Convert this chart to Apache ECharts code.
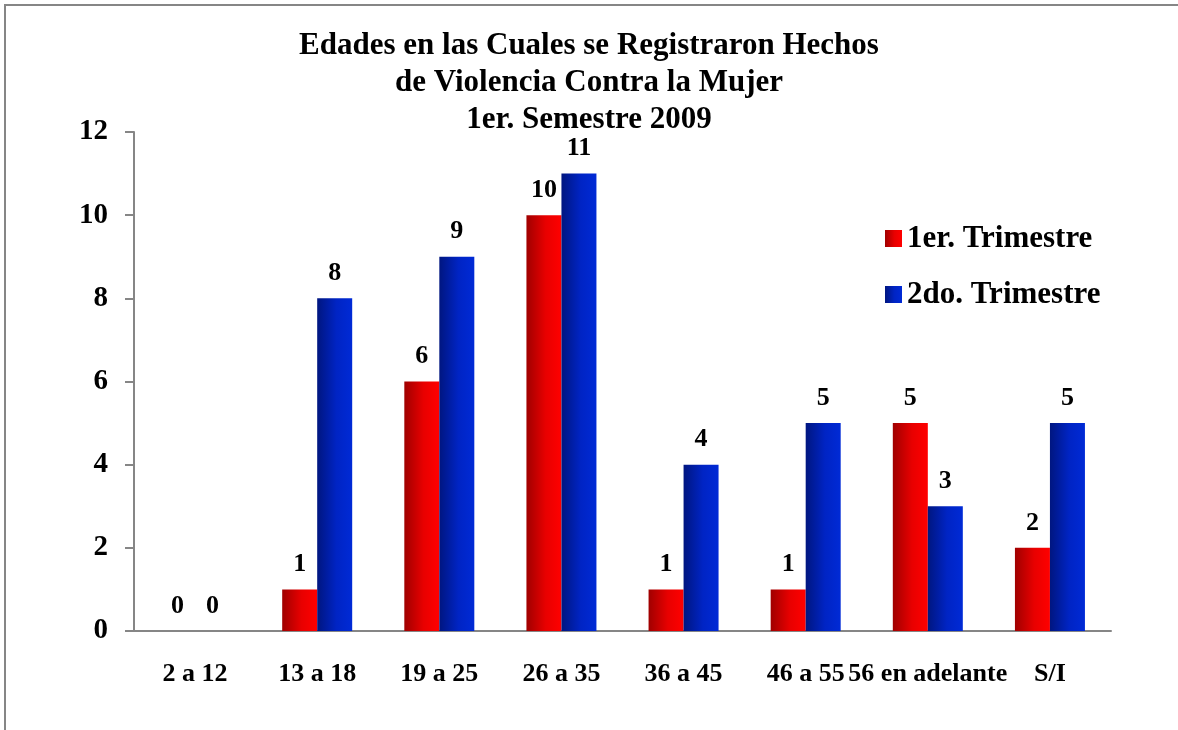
<!DOCTYPE html>
<html>
<head>
<meta charset="utf-8">
<script src="https://cdn.jsdelivr.net/npm/echarts@6/dist/echarts.min.js"></script>
<style>
  html, body { margin: 0; padding: 0; background: #fff; }
  #frame {
    position: absolute; left: 4px; top: 4px; width: 1174px; height: 726px;
    border-top: 2px solid #868686; border-left: 2px solid #868686;
  }
  #chart { position: absolute; left: 0; top: 0; width: 1178px; height: 730px; }
</style>
</head>
<body>
<div id="frame"></div>
<div id="chart"></div>
<script>
// datos
var categorias = ['2 a 12', '13 a 18', '19 a 25', '26 a 35', '36 a 45', '46 a 55', '56 en adelante', 'S/I'];
var trimestre1 = [0, 1, 6, 10, 1, 1, 5, 2];
var trimestre2 = [0, 8, 9, 11, 4, 5, 3, 5];
var nombres = ['1er. Trimestre', '2do. Trimestre'];
var ticksY = [0, 2, 4, 6, 8, 10, 12];

var fuente = "'Liberation Serif', 'Times New Roman', serif";

function degradado(c0, c1, c2) {
  return new echarts.graphic.LinearGradient(0, 0, 1, 0, [
    { offset: 0, color: c0 },
    { offset: 0.55, color: c1 },
    { offset: 1, color: c2 }
  ]);
}
var rojo = degradado('#a00000', '#e80000', '#ff0000');
var azul = degradado('#001680', '#0024c4', '#002ad6');

var etiqueta = {
  show: true,
  position: 'top',
  distance: 12,
  color: '#000',
  fontFamily: fuente,
  fontWeight: 'bold',
  fontSize: 26
};

var chart = echarts.init(document.getElementById('chart'));
var option = {
  animation: false,
  title: {
    text: 'Edades en las Cuales se Registraron Hechos\nde Violencia Contra la Mujer\n1er. Semestre 2009',
    left: 'center',
    top: 22,
    textStyle: {
      fontFamily: fuente,
      fontWeight: 'bold',
      fontSize: 31,
      lineHeight: 37,
      color: '#000'
    }
  },
  legend: {
    orient: 'vertical',
    left: 880,
    top: 218,
    itemWidth: 17,
    itemHeight: 17,
    itemGap: 25,
    icon: 'rect',
    textStyle: { fontFamily: fuente, fontWeight: 'bold', fontSize: 31, color: '#000', padding: [0, 0, 0, 0] },
    data: nombres
  },
  grid: { left: 134, right: 67, top: 132, bottom: 99 },
  xAxis: {
    type: 'category',
    data: categorias,
    axisLine: { lineStyle: { color: '#868686', width: 2 } },
    axisTick: { length: 9, lineStyle: { color: '#868686', width: 2 } },
    axisLabel: {
      interval: 0,
      margin: 30,
      color: '#000',
      fontFamily: fuente,
      fontWeight: 'bold',
      fontSize: 26
    }
  },
  yAxis: {
    type: 'value',
    min: ticksY[0],
    max: ticksY[ticksY.length - 1],
    interval: 2,
    splitLine: { show: false },
    axisLine: { show: true, lineStyle: { color: '#868686', width: 2 } },
    axisTick: { show: true, length: 9, lineStyle: { color: '#868686', width: 2 } },
    axisLabel: {
      margin: 26,
      color: '#000',
      fontFamily: fuente,
      fontWeight: 'bold',
      fontSize: 29
    }
  },
  series: [
    {
      name: nombres[0],
      type: 'bar',
      data: trimestre1,
      barWidth: 35,
      barGap: '0%',
      itemStyle: { color: rojo },
      label: etiqueta
    },
    {
      name: nombres[1],
      type: 'bar',
      data: trimestre2,
      barWidth: 35,
      barGap: '0%',
      itemStyle: { color: azul },
      label: etiqueta
    }
  ]
};
chart.setOption(option);
</script>
</body>
</html>
